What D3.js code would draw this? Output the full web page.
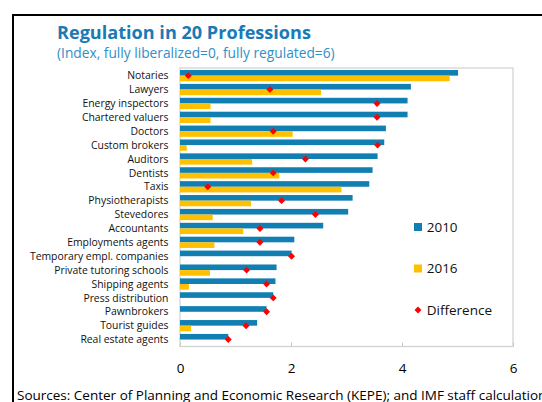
<!DOCTYPE html>
<html>
<head>
<meta charset="utf-8">
<script src="https://cdn.jsdelivr.net/npm/d3@7"></script>
<style>
  body { margin: 0; background: #fff; }
  svg { display: block; font-family: "Open Sans", "Noto Sans", sans-serif; }
</style>
</head>
<body>
<div class="graphHere"></div>
<script>
// data
var professions = ["Notaries", "Lawyers", "Energy inspectors", "Chartered valuers", "Doctors",
  "Custom brokers", "Auditors", "Dentists", "Taxis", "Physiotherapists", "Stevedores",
  "Accountants", "Employments agents", "Temporary empl. companies", "Private tutoring schools",
  "Shipping agents", "Press distribution", "Pawnbrokers", "Tourist guides", "Real estate agents"];
var values2010 = [5.01, 4.16, 4.10, 4.10, 3.71, 3.68, 3.56, 3.47, 3.41, 3.11,
  3.03, 2.58, 2.06, 2.01, 1.74, 1.72, 1.68, 1.56, 1.39, 0.87];
var values2016 = [4.86, 2.54, 0.55, 0.55, 2.03, 0.12, 1.30, 1.79, 2.91, 1.28,
  0.59, 1.14, 0.62, 0, 0.54, 0.16, 0, 0, 0.20, 0];
var difference = [0.15, 1.62, 3.55, 3.55, 1.68, 3.56, 2.26, 1.68, 0.50, 1.83,
  2.44, 1.44, 1.44, 2.01, 1.20, 1.56, 1.68, 1.56, 1.19, 0.87];
var xTicks = [0, 2, 4, 6];
var legendItems = ["2010", "2016", "Difference"];

var blue = "#117fb2", yellow = "#ffc000", red = "#ff0000";

var width = 542, height = 402;
var svg = d3.select(".graphHere").append("svg")
  .attr("width", width)
  .attr("height", height);

// outer frame
svg.append("rect")
  .attr("x", 13).attr("y", 15)
  .attr("width", 560).attr("height", 420)
  .attr("fill", "none")
  .attr("stroke", "#000")
  .attr("stroke-width", 2);

svg.append("text")
  .attr("x", 57).attr("y", 38.5)
  .attr("font-size", 18.1)
  .attr("font-weight", "bold")
  .attr("fill", "#1a7ab5")
  .text("Regulation in 20 Professions");

svg.append("text")
  .attr("x", 57).attr("y", 57.5)
  .attr("font-size", 13.75)
  .attr("fill", "#2f8fc8")
  .text("(Index, fully liberalized=0, fully regulated=6)");

var plot = { left: 180, right: 513, top: 68, bottom: 346.5 };

var x = d3.scaleLinear().domain([0, 6]).range([plot.left, plot.right]);
var y = d3.scaleBand().domain(professions)
  .range([plot.top + 0.7, plot.bottom])
  .paddingInner(0.19).paddingOuter(0.095);

// plot box
svg.append("rect")
  .attr("x", plot.left).attr("y", plot.top)
  .attr("width", plot.right - plot.left)
  .attr("height", plot.bottom - plot.top)
  .attr("fill", "none")
  .attr("stroke", "#d0d0d0")
  .attr("stroke-width", 1.2);

// x axis: ticks point up inside, labels below
var xAxis = svg.append("g")
  .attr("transform", "translate(0," + plot.bottom + ")")
  .call(d3.axisBottom(x).tickValues(xTicks).tickFormat(d3.format("d"))
    .tickSizeInner(-4).tickSizeOuter(0).tickPadding(17));
xAxis.select(".domain").remove();
xAxis.selectAll(".tick line").attr("stroke", "#c8c8c8");
xAxis.selectAll(".tick text")
  .attr("font-size", 13.5)
  .attr("font-family", "Open Sans, sans-serif")
  .attr("fill", "#000");

// category labels
svg.append("g").selectAll("text")
  .data(professions)
  .join("text")
    .attr("x", 168.5)
    .attr("y", function(d){ return y(d) + y.bandwidth() / 2; })
    .attr("dy", "0.35em")
    .attr("text-anchor", "end")
    .attr("font-size", 10.4)
    .attr("fill", "#111")
    .text(function(d){ return d; });

var barH = y.bandwidth() / 2;

svg.append("g").selectAll("rect")
  .data(values2010)
  .join("rect")
    .attr("x", x(0))
    .attr("y", function(d, i){ return y(professions[i]); })
    .attr("width", function(d){ return x(d) - x(0); })
    .attr("height", barH)
    .attr("fill", blue);

svg.append("g").selectAll("rect")
  .data(values2016)
  .join("rect")
    .attr("x", x(0))
    .attr("y", function(d, i){ return y(professions[i]) + barH; })
    .attr("width", function(d){ return x(d) - x(0); })
    .attr("height", barH)
    .attr("fill", yellow);

var diamond = d3.symbol().type(d3.symbolSquare).size(24);
svg.append("g").selectAll("path")
  .data(difference)
  .join("path")
    .attr("d", diamond)
    .attr("transform", function(d, i){
      return "translate(" + x(d) + "," + (y(professions[i]) + barH) + ") rotate(45)";
    })
    .attr("fill", red);

// legend
var legendY = [227, 268.5, 310];
var legend = svg.append("g").selectAll("g")
  .data(legendItems)
  .join("g")
    .attr("transform", function(d, i){ return "translate(418," + legendY[i] + ")"; });
legend.each(function(d, i){
  var g = d3.select(this);
  if (i < 2) {
    g.append("rect").attr("x", -4).attr("y", -4).attr("width", 8).attr("height", 8)
      .attr("fill", i == 0 ? blue : yellow);
  } else {
    g.append("path").attr("d", diamond).attr("transform", "rotate(45)").attr("fill", red);
  }
  g.append("text").attr("x", 8.7).attr("dy", "0.35em")
    .attr("font-size", 13.5).attr("fill", "#111").text(d);
});

svg.append("text")
  .attr("x", 17).attr("y", 400)
  .attr("font-size", 13.5)
  .attr("fill", "#000")
  .text("Sources: Center of Planning and Economic Research (KEPE); and IMF staff calculations");
</script>
</body>
</html>
